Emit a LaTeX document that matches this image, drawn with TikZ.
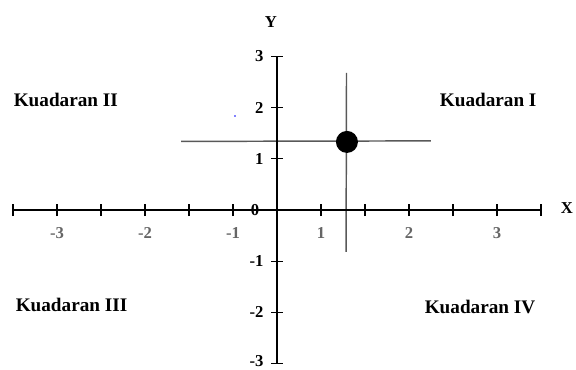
\documentclass[tikz,border=0pt]{standalone}
\usepackage{fontspec}
\setmainfont{Liberation Serif}
\usepackage{tikz}
\usetikzlibrary{positioning}

\begin{document}
\begin{tikzpicture}[
x=66pt,y=38.4pt,
axis/.style={line width=1.1pt,color=black},
tickmark/.style={line width=0.9pt,color=black},
guide/.style={line width=1.1pt,color=black!65},
titik/.style={circle,fill=black,inner sep=0pt,minimum size=16.5pt},
kuad/.style={font=\fontsize{14.4}{17}\selectfont\bfseries,inner sep=0pt},
num/.style={font=\fontsize{12.5}{15}\selectfont\bfseries,inner sep=0pt},
xnum/.style={num,text=black!60}
]
\useasboundingbox (-3.148,-3.125) rectangle (3.398,4.102);
% garis bantu titik
\coordinate (hkiri) at (-1.09,1.34);
\coordinate (hkanan) at (1.75,1.35);
\coordinate (vatas) at (0.79,2.68);
\coordinate (vbawah) at (0.785,-0.82);
\draw[guide] (hkiri) -- (hkanan);
\draw[guide] (vatas) -- (vbawah);
% sumbu
\coordinate (xkiri) at (-3,0);
\coordinate (xkanan) at (3,0);
\coordinate (yatas) at (0,3);
\coordinate (ybawah) at (0,-3);
\draw[axis] (xkiri) -- (xkanan);
\draw[axis] (ybawah) -- (yatas);
\foreach \i in {-6,...,6}
  \draw[tickmark] (\i*0.5,0) ++(0,-4.5pt) -- ++(0,9pt);
\foreach \j in {-3,...,3}
  \draw[tickmark] (0,\j) ++(-4.5pt,0) -- ++(9pt,0);
% angka
\foreach \v/\t in {-2.5/-3,-1.5/-2,-0.5/-1,0.5/1,1.5/2,2.5/3}
  \node[xnum] (xl\t) at (\v,-0.45) {\t};
\foreach \j in {1,2,3,-1,-2}
  \node[num,anchor=east] (yl\j) at (-0.15,\j) {\j};
\node[num,anchor=east] (yl-3) at (-0.15,-2.95) {-3};
\node[num] (nol) at (-0.25,0) {0};
\node[num] (labx) at (3.295,0.04) {X};
\node[num] (laby) at (-0.068,3.67) {Y};
% titik
\node[titik] (p) at (0.795,1.33) {};
\fill[blue] (-0.477,1.836) circle (0.7pt);
% kuadran
\node[kuad] (k1) at (2.40,2.15) {Kuadaran I};
\node[kuad] (k2) at (-2.40,2.15) {Kuadaran II};
\node[kuad] (k3) at (-2.335,-1.855) {Kuadaran III};
\node[kuad] (k4) at (2.307,-1.89) {Kuadaran IV};
\end{tikzpicture}
\end{document}
